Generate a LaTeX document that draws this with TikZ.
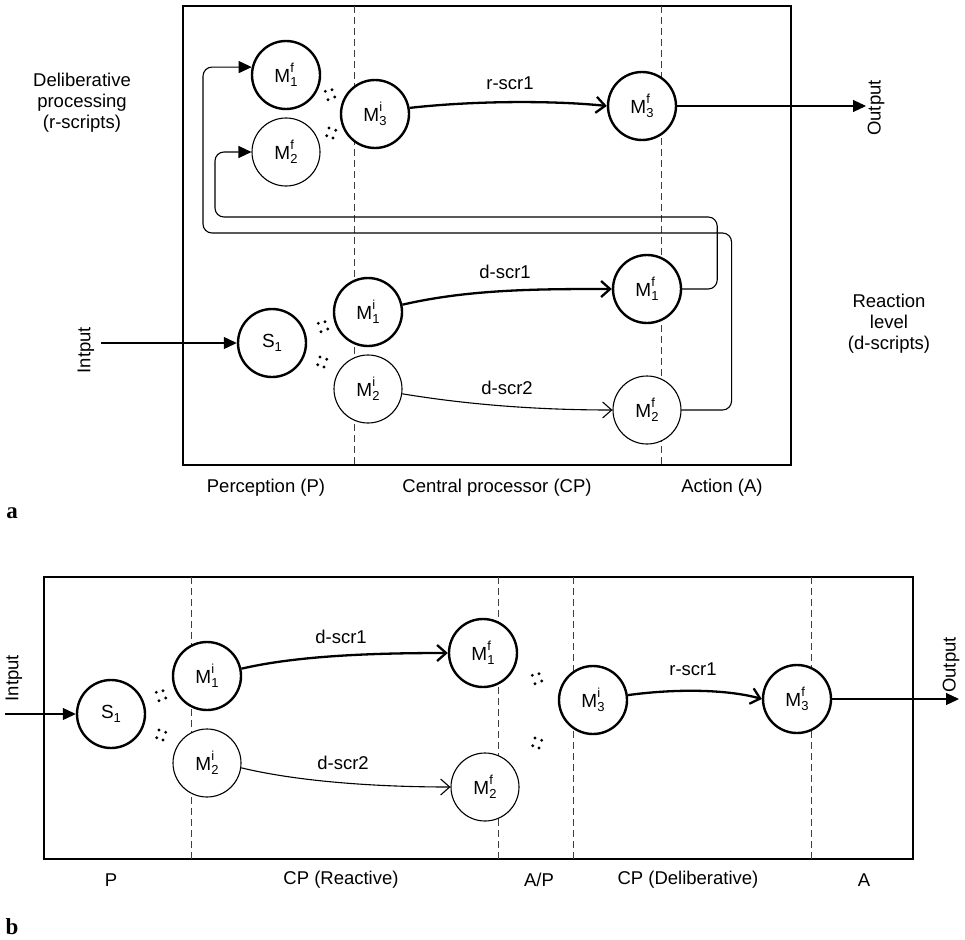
\documentclass[tikz,border=0pt]{standalone}
\usepackage{fontspec}
\setmainfont{Liberation Sans}
\newfontfamily\serifbold{Liberation Serif}
\usetikzlibrary{arrows.meta}
\newcommand\Mlab[2]{M\makebox[0pt][l]{\raisebox{10.5pt}{\fontsize{13}{13}\selectfont #1}}\raisebox{-4pt}{\fontsize{13}{13}\selectfont #2}}
\newcommand\Slab{S\raisebox{-4pt}{\fontsize{13}{13}\selectfont 1}}
\begin{document}
\begin{tikzpicture}[x=1pt,y=-1pt,
  font=\fontsize{18.5}{21}\selectfont,
  circ/.style={circle,draw,fill=white,minimum size=68pt,inner sep=0pt,line width=1.1pt,font=\fontsize{19}{21}\selectfont},
  circb/.style={circ,line width=2.4pt},
  panel/.style={draw,line width=2.2pt},
  sep/.style={dash pattern=on 7pt off 4pt,line width=0.9pt,draw=black!75},
  thinarr/.style={line width=1.1pt,-{Straight Barb[length=9pt,width=16pt]}},
  thickarr/.style={line width=2.3pt,-{Straight Barb[length=9pt,width=16pt]}},
  feed/.style={line width=1.1pt,-{Triangle[length=13pt,width=12pt]},rounded corners=9pt},
  io/.style={line width=1.1pt,-{Triangle[length=13pt,width=12pt]}},
  lab/.style={inner sep=0pt},
  dotsup/.pic={\fill (-4.7,-2.7) circle (1.6pt) (2,-4.3) circle (1.6pt) (-2,5.7) circle (1.6pt) (4.7,3) circle (1.6pt);},
  dotsdown/.pic={\fill (-2,-5) circle (1.6pt) (4.7,-2.7) circle (1.6pt) (-4.3,2.7) circle (1.6pt) (2,5) circle (1.6pt);}
]
\useasboundingbox (0,0) rectangle (965,939);

% ---------- panel a ----------
\draw[panel] (183,6) rectangle (791,465);
\draw[sep] (354,6) -- (354,465);
\draw[sep] (661,6) -- (661,465);

\node[circb] (T1f) at (286,75) {\Mlab{f}{1}};
\node[circ]  (T2f) at (286,152) {\Mlab{f}{2}};
\node[circb] (T3i) at (375,114) {\Mlab{i}{3}};
\node[circb] (T3f) at (642,106) {\Mlab{f}{3}};
\node[circb] (R1i) at (368,312) {\Mlab{i}{1}};
\node[circ]  (R2i) at (368,389) {\Mlab{i}{2}};
\node[circb] (S1)  at (272,343) {\Slab};
\node[circb] (R1f) at (647,289) {\Mlab{f}{1}};
\node[circ]  (R2f) at (647,410) {\Mlab{f}{2}};

\pic at (330,94) {dotsup};
\pic at (331,133) {dotsdown};
\pic at (323,326) {dotsup};
\pic at (322,362) {dotsdown};

\draw[thickarr] (T3i.10) .. controls (480,100) and (560,101) .. (T3f.west);
\draw[thickarr] (R1i.12) .. controls (470,289) and (540,289) .. (R1f.west);
\draw[thinarr]  (R2i.-8) .. controls (470,405) and (540,410) .. (R2f.west);

\draw[feed] (R1f.east) -- ++(35,0) |- (215,217) |- (T2f.west);
\draw[feed] (R2f.east) -- ++(50,0) |- (203,233) |- (T1f.167);

\coordinate (inT) at (101,343);
\coordinate (outT) at (866,106);
\draw[io] (inT) -- (S1.west);
\draw[io] (T3f.east) -- (outT);

\node[lab,rotate=90] (inTl) at (86,350) {Intput};
\node[lab,rotate=90] (outTl) at (876,108) {Output};

\node[lab] (rs1) at (510,83) {r-scr1};
\node[lab] (ds1) at (505,272) {d-scr1};
\node[lab] (ds2) at (507,388) {d-scr2};

\node[lab,align=center] (delib) at (82,103) {Deliberative\\processing\\(r-scripts)};
\node[lab,align=center] (react) at (889,324) {Reaction\\level\\(d-scripts)};

\node[lab] (pP) at (266,488) {Perception (P)};
\node[lab] (pCP) at (497,488) {Central processor (CP)};
\node[lab] (pA) at (722,488) {Action (A)};
\node[lab] (la) at (12,513) {\fontsize{23}{23}\selectfont\serifbold\bfseries a};

% ---------- panel b ----------
\draw[panel] (44,577) rectangle (913,859);
\draw[sep] (191,577) -- (191,859);
\draw[sep] (498,577) -- (498,859);
\draw[sep] (573,577) -- (573,859);
\draw[sep] (811,577) -- (811,859);

\node[circb] (bS1) at (111,714) {\Slab};
\node[circb] (b1i) at (207,676) {\Mlab{i}{1}};
\node[circ]  (b2i) at (207,763) {\Mlab{i}{2}};
\node[circb] (b1f) at (483,653) {\Mlab{f}{1}};
\node[circ]  (b2f) at (485,787) {\Mlab{f}{2}};
\node[circb] (b3i) at (593,700) {\Mlab{i}{3}};
\node[circb] (b3f) at (797,699) {\Mlab{f}{3}};

\pic at (161,695) {dotsup};
\pic at (161,735) {dotsdown};
\pic at (537,678) {dotsup};
\pic at (537,743) {dotsdown};

\draw[thickarr] (b1i.12) .. controls (300,655) and (380,653) .. (b1f.west);
\draw[thinarr]  (b2i.-8) .. controls (300,782) and (380,787) .. (b2f.west);
\draw[thickarr] (b3i.8) .. controls (680,688) and (730,690) .. (b3f.west);

\coordinate (inB) at (5,714);
\coordinate (outB) at (959,699);
\draw[io] (inB) -- (bS1.west);
\draw[io] (b3f.east) -- (outB);

\node[lab,rotate=90] (inBl) at (14,678) {Intput};
\node[lab,rotate=90] (outBl) at (951,665) {Output};

\node[lab] (bds1) at (341,637) {d-scr1};
\node[lab] (bds2) at (343,763) {d-scr2};
\node[lab] (brs1) at (693,669) {r-scr1};

\node[lab] (bP) at (111,880) {P};
\node[lab] (bCPr) at (341,880) {CP (Reactive)};
\node[lab] (bAP) at (539,880) {A/P};
\node[lab] (bCPd) at (688,880) {CP (Deliberative)};
\node[lab] (bA) at (864,880) {A};
\node[lab] (lb) at (12,927) {\fontsize{23}{23}\selectfont\serifbold\bfseries b};
\end{tikzpicture}
\end{document}
